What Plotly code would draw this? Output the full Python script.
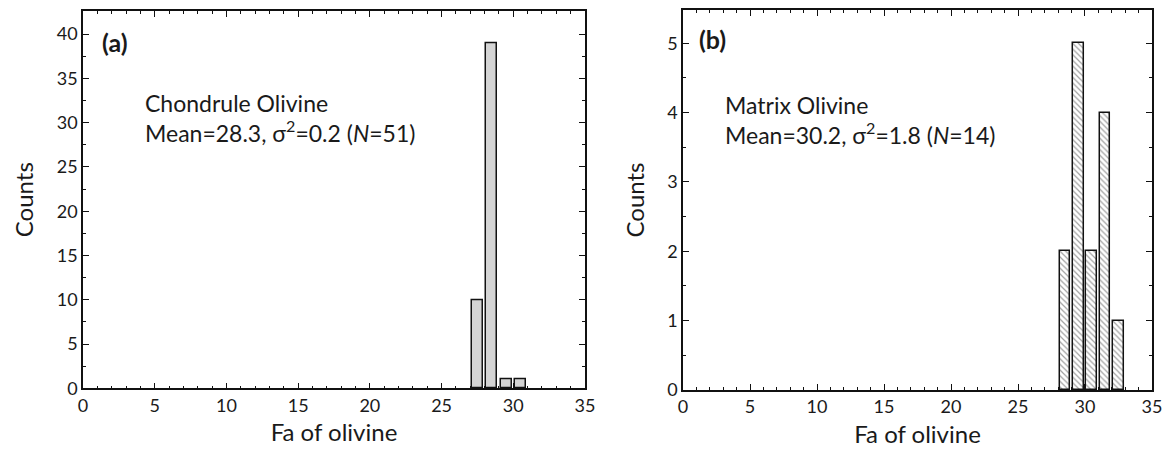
import plotly.graph_objects as go

# Panel (a): chondrule olivine histogram
bins_a = [27.5, 28.5, 29.5, 30.5]
counts_a = [10, 39, 1, 1]
# Panel (b): matrix olivine histogram
bins_b = [28.5, 29.5, 30.5, 31.5, 32.5]
counts_b = [2, 5, 2, 4, 1]

x_ticks = [0, 5, 10, 15, 20, 25, 30, 35]
ya_ticks = [0, 5, 10, 15, 20, 25, 30, 35, 40]
yb_ticks = [0, 1, 2, 3, 4, 5]

FONT = "Lato"
TXT = "#1a1a1a"

fig = go.Figure()
fig.add_trace(go.Bar(x=bins_a, y=counts_a, width=0.78, xaxis="x", yaxis="y",
                     marker=dict(color="#d4d4d4", line=dict(color="#111", width=1.5)),
                     showlegend=False))
fig.add_trace(go.Bar(x=bins_b, y=counts_b, width=0.78, xaxis="x2", yaxis="y2",
                     marker=dict(color="white", line=dict(color="#111", width=1.5),
                                 pattern=dict(shape="\\", fgcolor="#444", bgcolor="white",
                                              size=4, solidity=0.3)),
                     showlegend=False))

axis_common = dict(showline=True, mirror="ticks", linecolor="#111", linewidth=1.5,
                   ticks="inside", ticklen=6, tickwidth=1.2, tickcolor="#111",
                   showgrid=False, zeroline=False, ticklabeloverflow="allow",
                   tickfont=dict(family=FONT, size=18, color=TXT))
TITLE_FONT = dict(family=FONT, size=24, color=TXT)

fig.update_layout(
    width=1156, height=440,
    margin=dict(l=75, r=12, t=0, b=58),
    paper_bgcolor="white", plot_bgcolor="white",
    font=dict(family=FONT, color=TXT),
    xaxis=dict(domain=[0, 0.4696], range=[0, 35], tickvals=x_ticks, anchor="y",
               minor=dict(dtick=1, ticklen=3, ticks="inside", tickcolor="#111"),
               title=dict(text="Fa of olivine", font=TITLE_FONT, standoff=10),
               **axis_common),
    yaxis=dict(domain=[0.0045, 0.997], range=[0, 42.6], tickvals=ya_ticks, anchor="x",
               minor=dict(dtick=2.5, ticklen=3, ticks="inside", tickcolor="#111"),
               title=dict(text="Counts", font=TITLE_FONT, standoff=16),
               **axis_common),
    xaxis2=dict(domain=[0.5613, 1], range=[0, 35], tickvals=x_ticks, anchor="y2",
                minor=dict(dtick=1, ticklen=3, ticks="inside", tickcolor="#111"),
                title=dict(text="Fa of olivine", font=TITLE_FONT, standoff=10),
                **axis_common),
    yaxis2=dict(domain=[0, 1], range=[0, 5.48], tickvals=yb_ticks, anchor="x2",
                minor=dict(dtick=0.5, ticklen=3, ticks="inside", tickcolor="#111"),
                title=dict(text="Counts", font=TITLE_FONT, standoff=16),
                **axis_common),
    bargap=0,
)

ann = [
    dict(text="<b>(a)</b>", x=1.19, y=39.1, xref="x", yref="y", xanchor="left", yanchor="middle",
         font=dict(family=FONT, size=25, color=TXT), showarrow=False),
    dict(text="Chondrule Olivine<br>Mean=28.3, σ<sup>2</sup>=0.2 (<i>N</i>=51)", x=4.18, y=30.5,
         xref="x", yref="y", xanchor="left", yanchor="middle", align="left",
         font=dict(family=FONT, size=23, color=TXT), showarrow=False),
    dict(text="<b>(b)</b>", x=1.03, y=5.06, xref="x2", yref="y2", xanchor="left", yanchor="middle",
         font=dict(family=FONT, size=25, color=TXT), showarrow=False),
    dict(text="Matrix Olivine<br>Mean=30.2, σ<sup>2</sup>=1.8 (<i>N</i>=14)", x=2.96, y=3.90,
         xref="x2", yref="y2", xanchor="left", yanchor="middle", align="left",
         font=dict(family=FONT, size=23, color=TXT), showarrow=False),
]
fig.update_layout(annotations=ann)

fig.write_html("out.html")
